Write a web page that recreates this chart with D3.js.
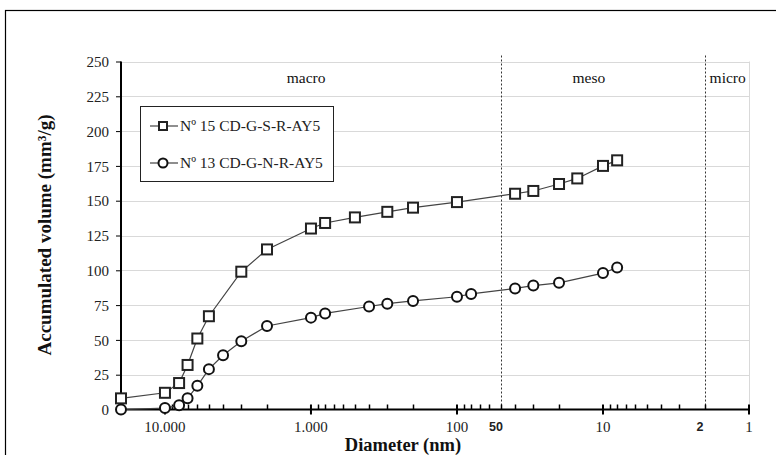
<!DOCTYPE html>
<html><head><meta charset="utf-8">
<script src="https://cdn.jsdelivr.net/npm/d3@7"></script>
<style>
html,body{margin:0;padding:0;background:#fff;}
svg{display:block;}
</style></head>
<body>
<svg id="c" width="776" height="455"></svg>
<script>
// ---- data ----
const seriesNames = ["Nº 15 CD-G-S-R-AY5", "Nº 13 CD-G-N-R-AY5"];
const diametersS15 = [20000,10000,8000,7000,6000,5000,3000,2000,1000,800,500,300,200,100,40,30,20,15,10,8];
const volumesS15   = [8,12,19,32,51,67,99,115,130,134,138,142,145,149,155,157,162,166,175,179];
const diametersS13 = [20000,10000,8000,7000,6000,5000,4000,3000,2000,1000,800,400,300,200,100,80,40,30,20,10,8];
const volumesS13   = [0,1,3,8,17,29,39,49,60,66,69,74,76,78,81,83,87,89,91,98,102];
const yTicks = [0,25,50,75,100,125,150,175,200,225,250];
const xMajorTicks = [10000,1000,100,10,1];
const xMajorLabels = ["10.000","1.000","100","10","1"];
const xBoldTicks = [50,2];
const xBoldLabels = ["50","2"];
const regionBounds = [50,2];
const regionNames = ["macro","meso","micro"];
const regionAnchors = [1080,12.5,1.4];

// ---- layout ----
const svg = d3.select("#c");
const L = 121, R = 749, T = 61.5, B = 409.5;
const x = d3.scaleLog().domain([20000,1]).range([L,R]);
const y = d3.scaleLinear().domain([0,250]).range([B,T]);
const serif = "'Liberation Serif','Times New Roman',serif";
const sans = "'Liberation Sans',Arial,sans-serif";

// outer frame
svg.append("rect").attr("x",5.5).attr("y",10.5).attr("width",800).attr("height",500)
  .attr("fill","none").attr("stroke","#000").attr("stroke-width",1.2);

// gridlines
svg.append("g").selectAll("line").data(yTicks.filter(d=>d>0)).join("line")
  .attr("x1",L).attr("x2",R).attr("y1",d=>Math.round(y(d))+0.5).attr("y2",d=>Math.round(y(d))+0.5)
  .attr("stroke","#d9d9d9").attr("stroke-width",1);
// right plot border
svg.append("line").attr("x1",R+0.5).attr("x2",R+0.5).attr("y1",T).attr("y2",B)
  .attr("stroke","#d9d9d9").attr("stroke-width",1);

// region dashed lines
svg.append("g").selectAll("line").data(regionBounds).join("line")
  .attr("x1",d=>Math.round(x(d))+0.5).attr("x2",d=>Math.round(x(d))+0.5)
  .attr("y1",T-6).attr("y2",B)
  .attr("stroke","#333").attr("stroke-width",1).attr("stroke-dasharray","2,2");

// region labels
svg.append("g").selectAll("text").data(regionNames).join("text")
  .attr("x",(d,i)=>x(regionAnchors[i])).attr("y",83)
  .attr("text-anchor","middle").attr("font-family",serif).attr("font-size",15.5)
  .attr("fill","#111").text(d=>d);

// y axis
const yAxis = svg.append("g").attr("transform",`translate(${L},0)`)
  .call(d3.axisLeft(y).tickValues(yTicks).tickSize(5).tickPadding(7).tickFormat(d3.format("d")));
yAxis.select(".domain").attr("stroke","#000").attr("stroke-width",2)
  .attr("d",`M0,${T}V${B}`);
yAxis.selectAll(".tick line").attr("stroke","#000").attr("stroke-width",1);
yAxis.selectAll(".tick text").attr("font-family",serif).attr("font-size",15).attr("fill","#222").attr("dy","0.35em");

// x axis
const xg = svg.append("g");
xg.append("line").attr("x1",L).attr("x2",R).attr("y1",B).attr("y2",B)
  .attr("stroke","#000").attr("stroke-width",2);
const minor = [];
[1,10,100,1000,10000].forEach(p=>{ for(let k=2;k<=9;k++){ const v=k*p; if(v<=20000 && v>=1) minor.push(v);} });
xg.selectAll("line.mn").data(minor).join("line").attr("class","mn")
  .attr("x1",d=>Math.round(x(d))+0.5).attr("x2",d=>Math.round(x(d))+0.5)
  .attr("y1",B-5).attr("y2",B).attr("stroke","#000").attr("stroke-width",1.5);
xg.selectAll("line.mj").data(xMajorTicks).join("line").attr("class","mj")
  .attr("x1",d=>x(d)).attr("x2",d=>x(d))
  .attr("y1",B-5).attr("y2",B+5).attr("stroke","#000").attr("stroke-width",2);
xg.selectAll("text.mj").data(xMajorTicks).join("text").attr("class","mj")
  .attr("x",d=>x(d)).attr("y",B+22).attr("text-anchor","middle")
  .attr("font-family",serif).attr("font-size",15).attr("fill","#222")
  .text((d,i)=>xMajorLabels[i]);
xg.selectAll("text.bd").data(xBoldTicks).join("text").attr("class","bd")
  .attr("x",d=>x(d)-5).attr("y",B+21).attr("text-anchor","middle")
  .attr("font-family",sans).attr("font-weight","bold").attr("font-size",12.5).attr("fill","#222")
  .text((d,i)=>xBoldLabels[i]);

// axis titles
svg.append("text").attr("x",403).attr("y",451).attr("text-anchor","middle")
  .attr("font-family",serif).attr("font-weight","bold").attr("font-size",18.5).attr("fill","#111")
  .text("Diameter (nm)");
svg.append("text").attr("transform","translate(51,235) rotate(-90)").attr("text-anchor","middle")
  .attr("font-family",serif).attr("font-weight","bold").attr("font-size",19).attr("fill","#111")
  .text("Accumulated volume (mm³/g)");

// series
const data15 = diametersS15.map((d,i)=>({d, v:volumesS15[i]}));
const data13 = diametersS13.map((d,i)=>({d, v:volumesS13[i]}));
const line = d3.line().x(p=>x(p.d)).y(p=>y(p.v));
[data15,data13].forEach(ds=>{
  svg.append("path").datum(ds).attr("d",line).attr("fill","none")
    .attr("stroke","#444").attr("stroke-width",1.2);
});
svg.append("g").selectAll("rect").data(data15).join("rect")
  .attr("x",p=>x(p.d)-5).attr("y",p=>y(p.v)-5).attr("width",10).attr("height",10)
  .attr("fill","#fff").attr("stroke","#222").attr("stroke-width",2);
svg.append("g").selectAll("circle").data(data13).join("circle")
  .attr("cx",p=>x(p.d)).attr("cy",p=>y(p.v)).attr("r",5)
  .attr("fill","#fff").attr("stroke","#111").attr("stroke-width",2);

// legend
const lg = svg.append("g");
lg.append("rect").attr("x",140.5).attr("y",106.5).attr("width",193).attr("height",75)
  .attr("fill","#fff").attr("stroke","#222").attr("stroke-width",1);
const rows = [126,163];
seriesNames.forEach((name,i)=>{
  const yy = rows[i];
  lg.append("line").attr("x1",150).attr("x2",178).attr("y1",yy).attr("y2",yy)
    .attr("stroke","#444").attr("stroke-width",1.2);
  if(i===0){
    lg.append("rect").attr("x",159).attr("y",yy-4).attr("width",8).attr("height",8)
      .attr("fill","#fff").attr("stroke","#222").attr("stroke-width",2);
  } else {
    lg.append("circle").attr("cx",163).attr("cy",yy).attr("r",4.5)
      .attr("fill","#fff").attr("stroke","#111").attr("stroke-width",2);
  }
  lg.append("text").attr("x",180).attr("y",yy+5).attr("font-family",serif)
    .attr("font-size",15.5).attr("fill","#222").text(name);
});
</script>
</body></html>
